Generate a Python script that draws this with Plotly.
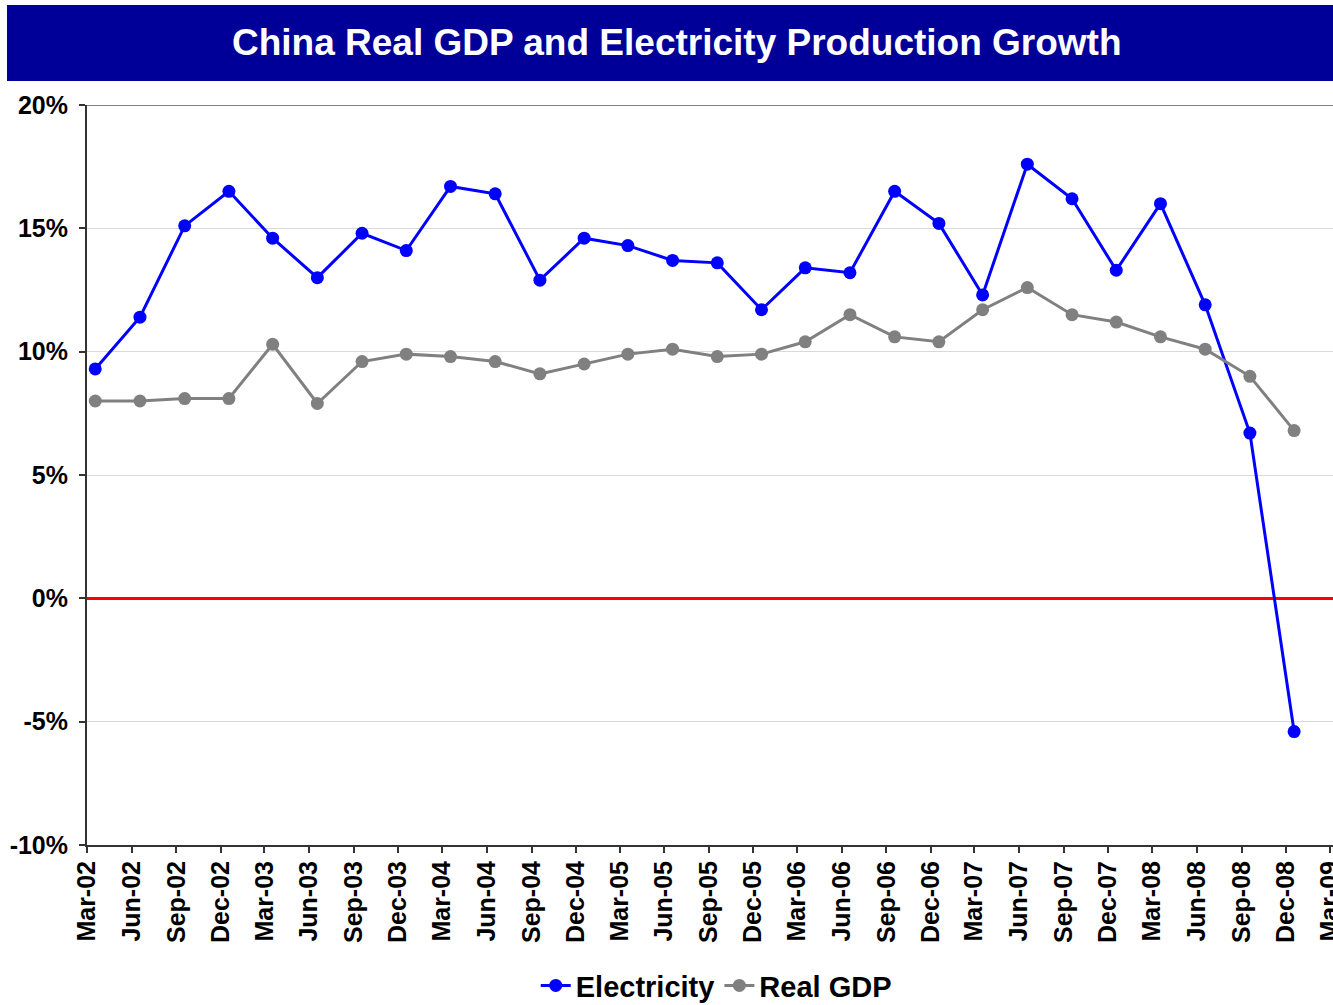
import plotly.graph_objects as go

# Quarterly observations (plotted mid-month of the quarter-end month)
quarters = [
    "2002-03-18", "2002-06-18", "2002-09-18", "2002-12-18",
    "2003-03-18", "2003-06-18", "2003-09-18", "2003-12-18",
    "2004-03-18", "2004-06-18", "2004-09-18", "2004-12-18",
    "2005-03-18", "2005-06-18", "2005-09-18", "2005-12-18",
    "2006-03-18", "2006-06-18", "2006-09-18", "2006-12-18",
    "2007-03-18", "2007-06-18", "2007-09-18", "2007-12-18",
    "2008-03-18", "2008-06-18", "2008-09-18", "2008-12-18",
]

# Year-over-year growth, percent
electricity = [
    9.3, 11.4, 15.1, 16.5,
    14.6, 13.0, 14.8, 14.1,
    16.7, 16.4, 12.9, 14.6,
    14.3, 13.7, 13.6, 11.7,
    13.4, 13.2, 16.5, 15.2,
    12.3, 17.6, 16.2, 13.3,
    16.0, 11.9, 6.7, -5.4,
]
real_gdp = [
    8.0, 8.0, 8.1, 8.1,
    10.3, 7.9, 9.6, 9.9,
    9.8, 9.6, 9.1, 9.5,
    9.9, 10.1, 9.8, 9.9,
    10.4, 11.5, 10.6, 10.4,
    11.7, 12.6, 11.5, 11.2,
    10.6, 10.1, 9.0, 6.8,
]

# Y-axis ticks
y_tick_values = [-10, -5, 0, 5, 10, 15, 20]
y_tick_labels = ["-10%", "-5%", "0%", "5%", "10%", "15%", "20%"]

title_text = "China Real GDP and Electricity Production Growth"
FONT = "Liberation Sans, Arial, sans-serif"

fig = go.Figure()
fig.add_trace(go.Scatter(
    x=quarters, y=electricity, name="<b>Electricity</b>",
    mode="lines+markers",
    line=dict(color="#0000ff", width=3),
    marker=dict(color="#0000ff", size=13),
))
fig.add_trace(go.Scatter(
    x=quarters, y=real_gdp, name="<b>Real GDP</b>",
    mode="lines+markers",
    line=dict(color="#808080", width=3),
    marker=dict(color="#808080", size=13),
))

# Banner behind the title
fig.add_shape(type="rect", xref="paper", yref="paper",
              x0=-0.0642, x1=1.0, y0=1.0324, y1=1.1351,
              fillcolor="#000099", line=dict(width=0), layer="below")
fig.add_annotation(xref="paper", yref="paper", x=0.4735, y=1.0838,
                   text="<b>" + title_text + "</b>", showarrow=False,
                   font=dict(family=FONT, size=37, color="white"),
                   xanchor="center", yanchor="middle")

# Top border of the plot area
fig.add_shape(type="line", xref="paper", yref="y", x0=0, x1=1, y0=20, y1=20,
              line=dict(color="#808080", width=2))

fig.update_layout(
    width=1333, height=1005,
    margin=dict(l=87, r=0, t=105, b=160, autoexpand=False),
    paper_bgcolor="white", plot_bgcolor="white",
    font=dict(family=FONT, color="black"),
    showlegend=True,
    legend=dict(orientation="h", x=0.505, xanchor="center", y=-0.19, yanchor="middle",
                font=dict(family=FONT, size=29, color="black"),
                tracegroupgap=0),
    xaxis=dict(
        type="date",
        range=["2002-03-01", "2009-03-08"],
        tick0="2002-03-01", dtick="M3", tickformat="<b>%b-%y</b>",
        tickangle=-90,
        tickfont=dict(family=FONT, size=25, color="black"),
        ticks="outside", ticklen=6, tickcolor="#333333", tickwidth=1.5,
        ticklabelstandoff=-2, ticklabeloverflow="allow",
        showline=True, linecolor="#333333", linewidth=2,
        showgrid=False, zeroline=False, automargin=False,
    ),
    yaxis=dict(
        range=[-10, 20],
        tickmode="array", tickvals=y_tick_values,
        ticktext=["<b>" + t + "</b>" for t in y_tick_labels],
        tickfont=dict(family=FONT, size=25, color="black"),
        ticks="outside", ticklen=6, tickcolor="#333333", tickwidth=1.5,
        ticklabelstandoff=6,
        showline=True, linecolor="#333333", linewidth=2,
        showgrid=True, gridcolor="#d9d9d9", gridwidth=1,
        zeroline=True, zerolinecolor="#ff0000", zerolinewidth=3,
        automargin=False,
    ),
)

fig.write_html("out.html")
